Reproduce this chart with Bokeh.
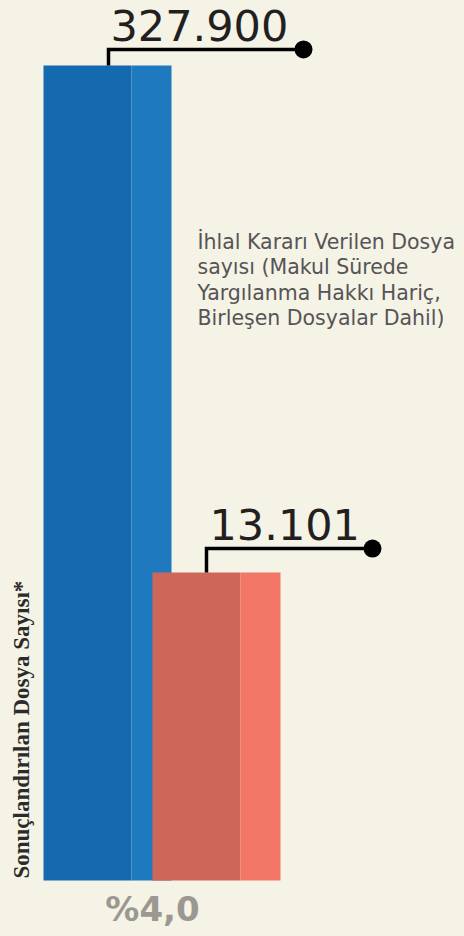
import math
from bokeh.plotting import figure
from bokeh.models import Range1d, LinearScale, GlobalInlineStyleSheet
from bokeh.core.properties import value
from bokeh.embed import file_html
from bokeh.resources import INLINE

# ---- data ----
series_names = ["Sonuçlandırılan Dosya Sayısı*", "İhlal Kararı Verilen Dosya sayısı"]
values = [327900, 13101]
value_labels = [f"{v:,}".replace(",", ".") for v in values]
description_lines = [
    "İhlal Kararı Verilen Dosya",
    "sayısı (Makul Sürede",
    "Yargılanma Hakkı Hariç,",
    "Birleşen Dosyalar Dahil)",
]
share = values[1] / values[0] * 100
share_label = "%" + f"{share:.1f}".replace(".", ",")

# ---- styles / layout ----
BG = "#f5f2e6"
W, H = 464, 936
Y_START, Y_END = 1298.6, 495300
BAR_BASE = 1853
k = H / (math.log10(Y_END) - math.log10(Y_START))  # px per decade

bar_left = [43, 152]
dark_w, light_w = 88, 40
dark_colors = ["#1569ae", "#cf665a"]
light_colors = ["#1e79bf", "#f37767"]
leader_x = [108, 206]
dot_x = [303, 372]
leader_px = [16, 24]
text_x = [110, 209]
text_gap_px = 24

p = figure(width=W, height=H, output_backend="svg", toolbar_location=None,
           x_range=Range1d(0, W), y_range=Range1d(Y_START, Y_END),
           y_axis_type="log", x_axis_location=None, y_axis_location=None,
           min_border=0, background_fill_color=BG, border_fill_color=BG,
           outline_line_color=None)
p.grid.visible = False
p.extra_y_ranges = {"px": Range1d(H, 0)}
p.extra_y_scales = {"px": LinearScale()}
p.stylesheets = [GlobalInlineStyleSheet(
    css=f"html,body{{background:{BG};margin:0;padding:0;overflow:hidden;}}")]

# bars (two tones each)
for i, v in enumerate(values):
    l = bar_left[i]
    p.quad(left=[l], right=[l + dark_w], bottom=[BAR_BASE], top=[v],
           fill_color=dark_colors[i], line_color=None)
    p.quad(left=[l + dark_w], right=[l + dark_w + light_w], bottom=[BAR_BASE], top=[v],
           fill_color=light_colors[i], line_color=None)

# leaders, dots and value labels
line_y = [v * 10 ** (leader_px[i] / k) for i, v in enumerate(values)]
label_y = [y * 10 ** (text_gap_px / k) for y in line_y]
p.multi_line(xs=[[leader_x[i], leader_x[i], dot_x[i]] for i in range(2)],
             ys=[[values[i], line_y[i], line_y[i]] for i in range(2)],
             line_color="black", line_width=3.5, line_join="miter")
p.scatter(x=dot_x, y=line_y, size=18, fill_color="black", line_color=None)
p.text(x=text_x, y=label_y, text=value_labels, text_font=value("DejaVu Sans"),
       text_font_size="43px", text_baseline="middle",
       text_color="#231f20")

# description
desc_x, desc_y0, desc_step = 197, 241.5, 25.3
p.text(x=[desc_x] * len(description_lines),
       y=[desc_y0 + i * desc_step for i in range(len(description_lines))],
       text=description_lines, y_range_name="px",
       text_font=value("DejaVu Sans"), text_font_size="20.5px",
       text_baseline="middle", text_color="#555555")

# rotated series label
p.text(x=[21], y=[878], text=[series_names[0]], y_range_name="px",
       angle=math.pi / 2, text_align="left", text_baseline="middle",
       text_font=value("Liberation Serif"), text_font_style="bold",
       text_font_size="23px", text_color="#2b2b2b")

# share
p.text(x=[152], y=[908], text=[share_label], y_range_name="px",
       text_align="center", text_baseline="middle",
       text_font=value("DejaVu Sans"), text_font_style="bold",
       text_font_size="34px", text_color="#9b9891")

open("out.html", "w").write(file_html(p, INLINE))
